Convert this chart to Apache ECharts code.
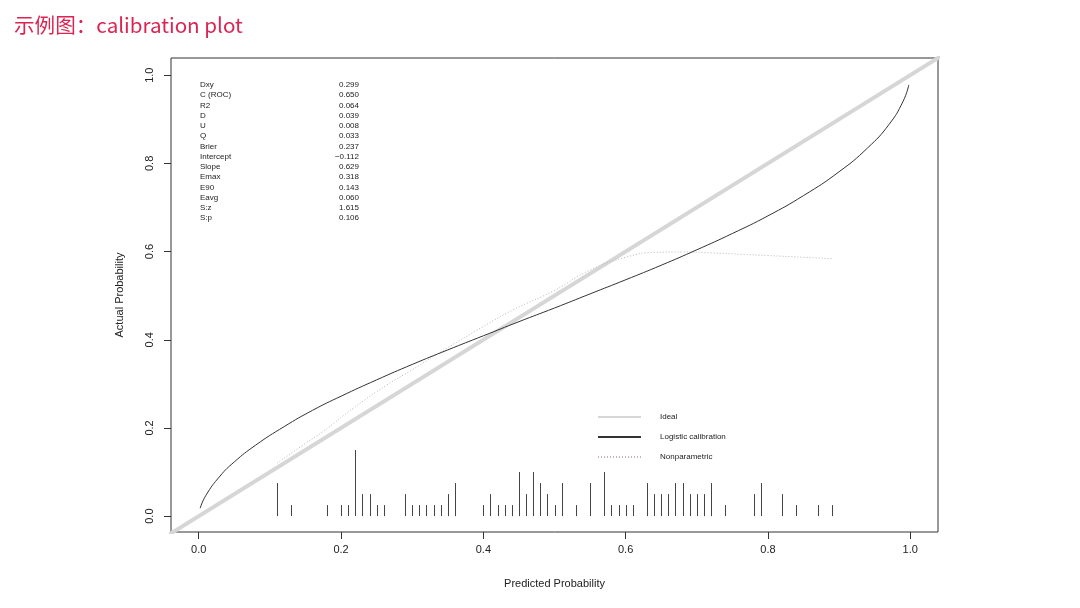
<!DOCTYPE html>
<html>
<head>
<meta charset="utf-8">
<script src="https://cdn.jsdelivr.net/npm/echarts@6/dist/echarts.min.js"></script>
<style>
  html, body { margin: 0; padding: 0; background: #fff; }
  #chart { width: 1080px; height: 608px; }
</style>
</head>
<body>
<div id="chart"></div>
<script>
// tick labels
const tickValues = [0, 0.2, 0.4, 0.6, 0.8, 1.0];

// ideal diagonal
const idealX = [-0.05, 1.05];
const idealY = [-0.05, 1.05];

// logistic calibration curve
const logisticX = [0.002, 0.01, 0.03, 0.05, 0.08, 0.12, 0.16, 0.2, 0.25, 0.3, 0.35, 0.4, 0.45, 0.5,
                   0.55, 0.6, 0.65, 0.7, 0.75, 0.8, 0.85, 0.9, 0.94, 0.97, 0.99, 0.998];
const logisticY = [0.018, 0.047, 0.091, 0.123, 0.161, 0.203, 0.240, 0.272, 0.309, 0.344, 0.377, 0.409, 0.441, 0.472,
                   0.504, 0.536, 0.569, 0.604, 0.641, 0.681, 0.727, 0.781, 0.835, 0.888, 0.941, 0.978];

// nonparametric (loess) curve
const nonparX = [0.11, 0.15, 0.173, 0.22, 0.264, 0.3, 0.35, 0.4, 0.442, 0.5, 0.55, 0.6, 0.64, 0.68, 0.72, 0.76, 0.8, 0.85, 0.89];
const nonparY = [0.12, 0.165, 0.19, 0.248, 0.297, 0.332, 0.382, 0.43, 0.468, 0.512, 0.558, 0.587, 0.598, 0.599, 0.597, 0.594, 0.591, 0.587, 0.584];

// rug of predicted probabilities (position, spike height)
const rugX = [0.11, 0.13, 0.18, 0.20, 0.21, 0.22, 0.23, 0.24, 0.25, 0.26, 0.29, 0.30, 0.31, 0.32, 0.33, 0.34, 0.35, 0.36,
              0.40, 0.41, 0.42, 0.43, 0.44, 0.45, 0.46, 0.47, 0.48, 0.49, 0.50, 0.51, 0.53, 0.55, 0.57, 0.58, 0.59, 0.60,
              0.61, 0.63, 0.64, 0.65, 0.66, 0.67, 0.68, 0.69, 0.70, 0.71, 0.72, 0.74, 0.78, 0.79, 0.82, 0.84, 0.87, 0.89];
const rugH = [0.075, 0.025, 0.025, 0.025, 0.025, 0.15, 0.05, 0.05, 0.025, 0.025, 0.05, 0.025, 0.025, 0.025, 0.025, 0.025, 0.05, 0.075,
              0.025, 0.05, 0.025, 0.025, 0.025, 0.1, 0.05, 0.1, 0.075, 0.05, 0.025, 0.075, 0.025, 0.075, 0.1, 0.025, 0.025, 0.025,
              0.025, 0.075, 0.05, 0.05, 0.05, 0.075, 0.075, 0.05, 0.05, 0.05, 0.075, 0.025, 0.05, 0.075, 0.05, 0.025, 0.025, 0.025];

// statistics block
const statNames = ['Dxy', 'C (ROC)', 'R2', 'D', 'U', 'Q', 'Brier', 'Intercept', 'Slope', 'Emax', 'E90', 'Eavg', 'S:z', 'S:p'];
const statValues = ['0.299', '0.650', '0.064', '0.039', '0.008', '0.033', '0.237', '\u22120.112', '0.629', '0.318', '0.143', '0.060', '1.615', '0.106'];

const chart = echarts.init(document.getElementById('chart'));

const zip = (xs, ys) => xs.map((x, i) => [x, ys[i]]);
const fmt = v => v.toFixed(1);
const font = '"Liberation Sans", Arial, sans-serif';

const statGraphics = [];
statNames.forEach((name, i) => {
    const y = 81 + i * 10.25;
    statGraphics.push({
        type: 'text', left: 200, top: y,
        style: { text: name, font: '8px ' + font, fill: '#222' }
    });
    statGraphics.push({
        type: 'text', x: 359, y: y,
        style: { text: statValues[i], font: '8px ' + font, fill: '#222', textAlign: 'right', textVerticalAlign: 'top' }
    });
});

const option = {
    animation: false,
    backgroundColor: '#fff',
    title: {
        text: '示例图：calibration plot',
        left: 9,
        top: 10,
        textStyle: {
            color: '#dc2453',
            fontSize: 20.6,
            fontWeight: 'normal',
            fontFamily: '"Noto Sans CJK SC", sans-serif'
        }
    },
    legend: {
        orient: 'vertical',
        left: 597,
        top: 413,
        padding: 0,
        itemWidth: 43,
        itemHeight: 10,
        itemGap: 12,
        itemStyle: { opacity: 0 },
        textStyle: {
            fontSize: 8,
            color: '#222',
            fontFamily: font,
            padding: [0, 0, 0, 14]
        },
        data: ['Ideal', 'Logistic calibration', 'Nonparametric']
    },
    grid: {
        left: 171,
        right: 142,
        top: 58,
        bottom: 76,
        show: true,
        borderColor: '#333',
        borderWidth: 1,
        containLabel: false
    },
    xAxis: {
        type: 'value',
        min: -0.039,
        max: 1.039,
        name: 'Predicted Probability',
        nameLocation: 'middle',
        nameGap: 46,
        nameTextStyle: { fontSize: 11, color: '#222', fontFamily: font },
        axisLine: { show: false, onZero: false },
        axisTick: { show: true, length: 7, lineStyle: { color: '#333' }, customValues: tickValues },
        axisLabel: { fontSize: 11, color: '#222', fontFamily: font, margin: 12, customValues: tickValues, formatter: fmt },
        splitLine: { show: false }
    },
    yAxis: {
        type: 'value',
        min: -0.036,
        max: 1.039,
        name: 'Actual Probability',
        nameLocation: 'middle',
        nameGap: 46,
        nameTextStyle: { fontSize: 11, color: '#222', fontFamily: font },
        axisLine: { show: false, onZero: false },
        axisTick: { show: true, length: 7, lineStyle: { color: '#333' }, customValues: tickValues },
        axisLabel: { fontSize: 11, color: '#222', fontFamily: font, margin: 16, rotate: 90, customValues: tickValues, formatter: fmt },
        splitLine: { show: false }
    },
    graphic: statGraphics,
    series: [
        {
            name: 'Ideal',
            type: 'line',
            data: zip(idealX, idealY),
            showSymbol: false,
            symbol: 'none',
            lineStyle: { color: '#d6d6d6', width: 4 },
            z: 1
        },
        {
            name: 'Logistic calibration',
            type: 'line',
            data: zip(logisticX, logisticY),
            smooth: true,
            showSymbol: false,
            symbol: 'none',
            lineStyle: { color: '#333', width: 1 },
            z: 3
        },
        {
            name: 'Nonparametric',
            type: 'line',
            data: zip(nonparX, nonparY),
            smooth: true,
            showSymbol: false,
            symbol: 'none',
            lineStyle: { color: '#c4b4b4', width: 1, type: [1, 2] },
            z: 2
        },
        {
            name: 'rug',
            type: 'custom',
            data: zip(rugX, rugH),
            renderItem: (params, api) => {
                const p0 = api.coord([api.value(0), 0]);
                const p1 = api.coord([api.value(0), api.value(1)]);
                return {
                    type: 'line',
                    shape: { x1: Math.round(p0[0]) + 0.5, y1: p0[1], x2: Math.round(p1[0]) + 0.5, y2: p1[1] },
                    style: { stroke: '#444', lineWidth: 1 }
                };
            },
            z: 2
        }
    ]
};

chart.setOption(option);
</script>
</body>
</html>
